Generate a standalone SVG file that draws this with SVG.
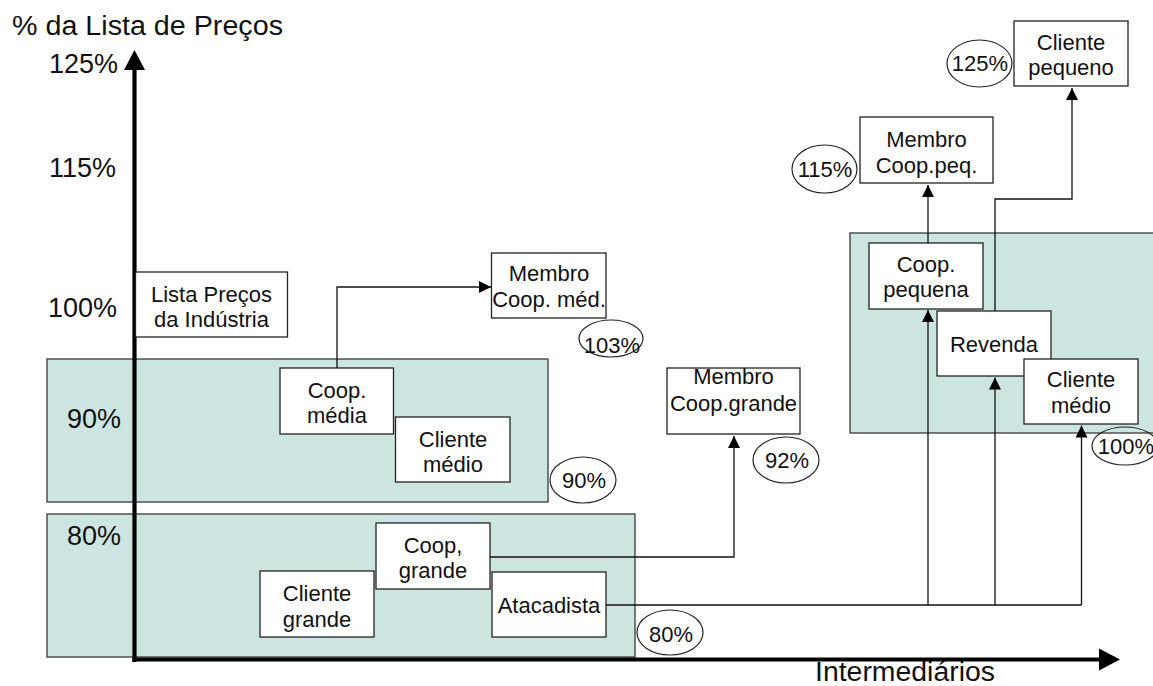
<svg xmlns="http://www.w3.org/2000/svg" width="1153" height="686" viewBox="0 0 1153 686">
  <style>
    .band { fill: #CDE5E0; stroke: #3a3a3a; stroke-width: 1.3; }
    .box { fill: #ffffff; stroke: #222; stroke-width: 1.3; }
    .lbl { font-family: "Liberation Sans", Arial, sans-serif; font-size: 22px; fill: #111; text-anchor: middle; }
    .pct { font-family: "Liberation Sans", Arial, sans-serif; font-size: 22px; fill: #111; text-anchor: middle; }
    .axis-txt { font-family: "Liberation Sans", Arial, sans-serif; font-size: 27px; fill: #111; }
    .oval { fill: none; stroke: #222; stroke-width: 1.2; }
    .link { fill: none; stroke: #111; stroke-width: 1.3; marker-end: url(#tip); }
    .plain { fill: none; stroke: #111; stroke-width: 1.3; }
  </style>
  <defs>
    <marker id="tip" markerUnits="userSpaceOnUse" markerWidth="12" markerHeight="12" refX="12" refY="6" orient="auto">
      <path d="M0,0 L12,6 L0,12 z" fill="#000"/>
    </marker>
  </defs>
  <rect width="1153" height="686" fill="#ffffff"/>

  <!-- price bands -->
  <g id="bands">
    <rect class="band" x="47" y="359" width="501" height="143"/>
    <rect class="band" x="47" y="514" width="588" height="143"/>
    <rect class="band" x="850" y="233" width="310" height="200"/>
  </g>

  <!-- axis labels -->
  <g id="axis-labels">
    <text class="axis-txt" x="12" y="35" font-size="28" textLength="271" lengthAdjust="spacingAndGlyphs">% da Lista de Preços</text>
    <text class="axis-txt" x="49" y="73">125%</text>
    <text class="axis-txt" x="49" y="177">115%</text>
    <text class="axis-txt" x="48" y="317">100%</text>
    <text class="axis-txt" x="67" y="428">90%</text>
    <text class="axis-txt" x="67" y="545">80%</text>
    <text class="axis-txt" x="815" y="681" font-size="23" textLength="180" lengthAdjust="spacingAndGlyphs">Intermediários</text>
  </g>

  <!-- connectors -->
  <g id="connectors">
    <path class="link" d="M337,368 V287 H491"/>
    <path class="link" d="M490,557 H734 V436"/>
    <path class="plain" d="M606,605 H1081.5"/>
    <path class="link" d="M928,605 V310"/>
    <path class="link" d="M995,605 V377.5"/>
    <path class="link" d="M1081.5,605 V425.5"/>
    <path class="link" d="M928,243 V185"/>
    <path class="link" d="M995,311 V199 H1072 V88"/>
  </g>

  <!-- axes -->
  <g id="axes">
    <line x1="134.5" y1="662" x2="134.5" y2="66" stroke="#000" stroke-width="4.2"/>
    <polygon points="134.5,50 145,70 124,70" fill="#000"/>
    <line x1="132.5" y1="659.5" x2="1102" y2="659.5" stroke="#000" stroke-width="4.2"/>
    <polygon points="1120,659.5 1099,648.5 1099,670.5" fill="#000"/>
  </g>

  <!-- nodes -->
  <g id="lista-precos">
    <rect class="box" x="135.5" y="272" width="152" height="65"/>
    <text class="lbl" x="211.5" y="302">Lista Preços</text>
    <text class="lbl" x="211.5" y="327">da Indústria</text>
  </g>
  <g id="coop-media">
    <rect class="box" x="280" y="368" width="113.5" height="66"/>
    <text class="lbl" x="337" y="398">Coop.</text>
    <text class="lbl" x="337" y="423">média</text>
  </g>
  <g id="cliente-medio-a">
    <rect class="box" x="395.5" y="417" width="114.5" height="65"/>
    <text class="lbl" x="453" y="447">Cliente</text>
    <text class="lbl" x="453" y="472">médio</text>
  </g>
  <g id="membro-coop-med">
    <rect class="box" x="491.5" y="253" width="114.5" height="65"/>
    <text class="lbl" x="549" y="281">Membro</text>
    <text class="lbl" x="549" y="307">Coop. méd.</text>
  </g>
  <g id="coop-grande">
    <rect class="box" x="376" y="523" width="114" height="66"/>
    <text class="lbl" x="433" y="553">Coop,</text>
    <text class="lbl" x="433" y="578">grande</text>
  </g>
  <g id="cliente-grande">
    <rect class="box" x="260" y="571" width="114" height="66"/>
    <text class="lbl" x="317" y="601">Cliente</text>
    <text class="lbl" x="317" y="627">grande</text>
  </g>
  <g id="atacadista">
    <rect class="box" x="492" y="572" width="114" height="65"/>
    <text class="lbl" x="549" y="613">Atacadista</text>
  </g>
  <g id="membro-coop-grande">
    <rect class="box" x="667" y="368" width="133" height="66"/>
    <text class="lbl" x="733.5" y="384">Membro</text>
    <text class="lbl" x="733.5" y="411">Coop.grande</text>
  </g>
  <g id="cliente-pequeno">
    <rect class="box" x="1014" y="21" width="114" height="65"/>
    <text class="lbl" x="1071" y="50">Cliente</text>
    <text class="lbl" x="1071" y="75">pequeno</text>
  </g>
  <g id="membro-coop-peq">
    <rect class="box" x="860" y="117" width="133" height="66"/>
    <text class="lbl" x="926.5" y="147">Membro</text>
    <text class="lbl" x="926.5" y="173">Coop.peq.</text>
  </g>
  <g id="coop-pequena">
    <rect class="box" x="869" y="243" width="114" height="66"/>
    <text class="lbl" x="926" y="272">Coop.</text>
    <text class="lbl" x="926" y="297">pequena</text>
  </g>
  <g id="revenda">
    <rect class="box" x="937" y="311" width="114" height="65"/>
    <text class="lbl" x="994" y="352">Revenda</text>
  </g>
  <g id="cliente-medio-b">
    <rect class="box" x="1024" y="359" width="114" height="65"/>
    <text class="lbl" x="1081" y="387">Cliente</text>
    <text class="lbl" x="1081" y="413">médio</text>
  </g>

  <!-- percentage tags -->
  <g id="tag-103">
    <ellipse class="oval" cx="611" cy="338.5" rx="32" ry="18.5"/>
    <text class="pct" x="612" y="353">103%</text>
  </g>
  <g id="tag-90">
    <ellipse class="oval" cx="583" cy="480" rx="33" ry="23"/>
    <text class="pct" x="584" y="488">90%</text>
  </g>
  <g id="tag-92">
    <ellipse class="oval" cx="786" cy="460" rx="33" ry="23"/>
    <text class="pct" x="787" y="468">92%</text>
  </g>
  <g id="tag-80">
    <ellipse class="oval" cx="670" cy="632.5" rx="33" ry="22.5"/>
    <text class="pct" x="671" y="642">80%</text>
  </g>
  <g id="tag-125">
    <ellipse class="oval" cx="979.5" cy="63.5" rx="32.5" ry="23.5"/>
    <text class="pct" x="980" y="71">125%</text>
  </g>
  <g id="tag-115">
    <ellipse class="oval" cx="824.5" cy="169" rx="32.5" ry="24"/>
    <text class="pct" x="825" y="177">115%</text>
  </g>
  <g id="tag-100">
    <ellipse class="oval" cx="1125" cy="446" rx="33" ry="19"/>
    <text class="pct" x="1126" y="454">100%</text>
  </g>
</svg>
